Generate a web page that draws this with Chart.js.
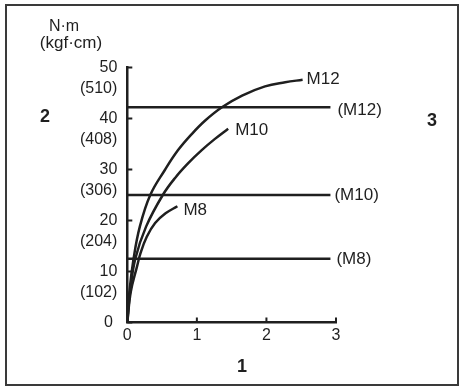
<!DOCTYPE html>
<html>
<head>
<meta charset="utf-8">
<script src="https://cdn.jsdelivr.net/npm/chart.js@4"></script>
<style>
  body { margin: 0; background: #fff; }
  canvas { display: block; }
</style>
</head>
<body>
<canvas id="torque_chart" width="464" height="390"></canvas>
<script>
// curves (x = 1 axis, y = N·m)
const m12X = [0, 0.03, 0.09, 0.18, 0.33, 0.54, 0.73, 0.93, 1.12, 1.36, 1.65, 1.98, 2.27, 2.52];
const m12Y = [0, 6.0, 12.5, 18.8, 25.0, 29.9, 33.8, 37.0, 39.6, 42.2, 44.5, 46.3, 47.1, 47.6];
const m10X = [0, 0.04, 0.115, 0.27, 0.51, 0.69, 0.88, 1.07, 1.26, 1.45];
const m10Y = [0, 6.0, 12.5, 18.8, 25.0, 28.4, 31.3, 33.8, 36.0, 38.0];
const m8X = [0, 0.05, 0.14, 0.19, 0.28, 0.40, 0.55, 0.72];
const m8Y = [0, 6.0, 11.0, 13.6, 16.8, 19.5, 21.4, 22.8];

// horizontal limit lines
const limitNames = ['(M12)', '(M10)', '(M8)'];
const limitValues = [42.2, 25.0, 12.5];
const limitEnd = 2.92;

// axis ticks
const yTicks = [0, 10, 20, 30, 40, 50];
const yKgf = ['', '(102)', '(204)', '(306)', '(408)', '(510)'];
const xTicks = [0, 1, 2, 3];

const ink = '#1f1f1f';
const font = '"Liberation Sans", Arial, sans-serif';
const toPts = (xs, ys) => xs.map((x, i) => ({ x: x, y: ys[i] }));

const curve = (name, xs, ys, dx, dy) => ({
    label: name,
    data: toPts(xs, ys),
    borderColor: ink,
    borderWidth: 2.5,
    pointRadius: 0,
    showLine: true,
    tension: 0.4,
    tag: { text: name, dx: dx, dy: dy }
});

const limitOffsets = [[7, 3], [4, 0], [6, 1]];
const limitSets = limitNames.map((name, i) => ({
    label: name,
    data: [{ x: 0, y: limitValues[i] }, { x: limitEnd, y: limitValues[i] }],
    borderColor: ink,
    borderWidth: 2.5,
    pointRadius: 0,
    showLine: true,
    tag: { text: name, dx: limitOffsets[i][0], dy: limitOffsets[i][1] }
}));

// inward tick marks, line end labels, frame and free texts
const decor = {
    id: 'decor',
    afterDatasetsDraw(chart) {
        const c = chart.ctx;
        const xs = chart.scales.x, ys = chart.scales.y;
        const area = chart.chartArea;
        c.save();
        c.strokeStyle = ink;
        c.lineWidth = 2;
        c.beginPath();
        yTicks.forEach(v => {
            const py = ys.getPixelForValue(v);
            c.moveTo(area.left, py);
            c.lineTo(area.left + 5, py);
        });
        xTicks.slice(1).forEach(v => {
            const px = xs.getPixelForValue(v);
            c.moveTo(px, area.bottom);
            c.lineTo(px, area.bottom - 5);
        });
        c.stroke();

        c.fillStyle = ink;
        c.textBaseline = 'middle';
        c.textAlign = 'left';
        c.font = '17px ' + font;
        chart.data.datasets.forEach(ds => {
            const last = ds.data[ds.data.length - 1];
            c.fillText(ds.tag.text, xs.getPixelForValue(last.x) + ds.tag.dx, ys.getPixelForValue(last.y) + ds.tag.dy);
        });

        c.textAlign = 'center';
        c.font = '16px ' + font;
        c.fillText('N·m', 64, 27);
        c.font = '17px ' + font;
        c.fillText('(kgf·cm)', 71, 43);

        c.font = 'bold 18px ' + font;
        c.fillText('1', 242, 367);
        c.fillText('2', 45, 117);
        c.fillText('3', 432, 121);

        c.strokeStyle = '#3a3a3a';
        c.lineWidth = 2;
        c.strokeRect(6, 5, 452, 380);
        c.restore();
    }
};

const ctx = document.getElementById('torque_chart').getContext('2d');

new Chart(ctx, {
    type: 'scatter',
    data: {
        datasets: [
            curve('M12', m12X, m12Y, 4, 0),
            curve('M10', m10X, m10Y, 7, 2),
            curve('M8', m8X, m8Y, 6, 4),
            ...limitSets
        ]
    },
    options: {
        responsive: false,
        animation: false,
        layout: {
            padding: { top: 67.5, right: 128, bottom: 37.5, left: 67.3 }
        },
        plugins: {
            legend: { display: false },
            tooltip: { enabled: false }
        },
        scales: {
            x: {
                type: 'linear',
                min: 0,
                max: 3,
                afterFit: s => { s.height = 30; },
                afterBuildTicks: s => { s.ticks = xTicks.map(v => ({ value: v })); },
                grid: { display: false, drawTicks: false },
                border: { color: ink, width: 2.5 },
                ticks: {
                    color: ink,
                    padding: 3,
                    autoSkip: false,
                    maxRotation: 0,
                    font: { size: 16, family: font, lineHeight: 1.2 }
                }
            },
            y: {
                type: 'linear',
                min: 0,
                max: 50,
                afterFit: s => { s.width = 60; },
                afterBuildTicks: s => { s.ticks = yTicks.map(v => ({ value: v })); },
                grid: { display: false, drawTicks: false },
                border: { color: ink, width: 2.5 },
                ticks: {
                    color: ink,
                    padding: 10,
                    autoSkip: false,
                    font: { size: 16, family: font, lineHeight: 1.3 },
                    callback: v => {
                        const i = yTicks.indexOf(v);
                        return v === 0 ? '0 ' : ['', String(v), yKgf[i]];
                    }
                }
            }
        }
    },
    plugins: [decor]
});
</script>
</body>
</html>
